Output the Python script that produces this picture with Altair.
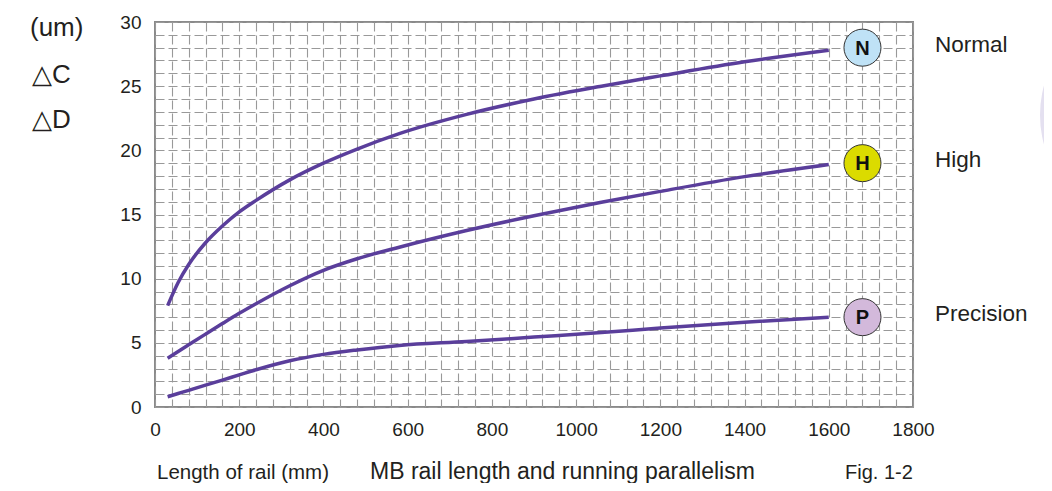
import altair as alt
import pandas as pd

# ---- data ----
lengths = [30, 55, 80, 120, 160, 200, 240, 320, 400, 480, 580, 740, 900, 1060, 1200, 1400, 1600]
normal = [7.9, 9.7, 11.1, 12.8, 14.1, 15.2, 16.1, 17.7, 19.0, 20.1, 21.3, 22.8, 24.0, 25.0, 25.8, 26.9, 27.8]
high = [3.8, 4.33, 4.85, 5.68, 6.5, 7.3, 8.05, 9.45, 10.65, 11.55, 12.45, 13.75, 14.9, 15.95, 16.8, 17.95, 18.9]
precision = [0.8, 1.05, 1.3, 1.7, 2.1, 2.5, 2.9, 3.6, 4.1, 4.45, 4.8, 5.1, 5.45, 5.8, 6.15, 6.6, 7.0]

grades = ["Normal", "High", "Precision"]
badges = ["N", "H", "P"]
badge_colors = ["#bfe2f6", "#dbdb00", "#d3b9db"]
badge_x = [1680, 1680, 1680]
badge_y = [28.0, 19.0, 7.0]

x_ticks = list(range(0, 1801, 40))
y_ticks = list(range(0, 31, 1))

TXT = "#231f20"
FONT = "Liberation Sans"
LINE = "#5a3e9b"

rows = []
for g, vals in zip(grades, [normal, high, precision]):
    for L, v in zip(lengths, vals):
        rows.append({"grade": g, "length": L, "value": v})
df = pd.DataFrame(rows)

bdf = pd.DataFrame({"grade": grades, "badge": badges, "color": badge_colors,
                    "x": badge_x, "y": badge_y})

xscale = alt.Scale(domain=[0, 1800], nice=False, zero=False)
yscale = alt.Scale(domain=[0, 30], nice=False, zero=True)

xaxis = alt.Axis(values=x_ticks, tickCount=len(x_ticks),
                 labelExpr="datum.value % 200 === 0 ? datum.label : ''",
                 title=None, grid=True, gridDash=[9, 4], gridColor="#999999", gridWidth=1.1,
                 ticks=False, domain=False, labelFontSize=19, labelPadding=13,
                 labelColor=TXT, labelFont=FONT, labelFlush=False, labelOverlap=False, format="d")
yaxis = alt.Axis(values=y_ticks, tickCount=len(y_ticks),
                 labelExpr="datum.value % 5 === 0 ? datum.label : ''",
                 title=None, grid=True, gridDash=[9, 4], gridColor="#999999", gridWidth=1.1,
                 ticks=False, domain=False, labelFontSize=19, labelPadding=14,
                 labelColor=TXT, labelFont=FONT, labelFlush=False, labelOverlap=False)

lines = alt.Chart(df).mark_line(color=LINE, strokeWidth=3.5, interpolate="monotone").encode(
    x=alt.X("length:Q", scale=xscale, axis=xaxis),
    y=alt.Y("value:Q", scale=yscale, axis=yaxis),
    detail="grade:N",
)

circles = alt.Chart(bdf).mark_point(filled=True, shape="circle", size=1370, opacity=1,
                                    stroke="#333333", strokeWidth=1).encode(
    x=alt.X("x:Q", scale=xscale, axis=xaxis),
    y=alt.Y("y:Q", scale=yscale, axis=yaxis),
    fill=alt.Fill("color:N", scale=None),
)

letters = alt.Chart(bdf).mark_text(font=FONT, fontSize=20, fontWeight="bold", color="#111111",
                                   baseline="middle", align="center", dy=1).encode(
    x=alt.X("x:Q", scale=xscale, axis=xaxis),
    y=alt.Y("y:Q", scale=yscale, axis=yaxis),
    text="badge:N",
)

grade_labels = alt.Chart(bdf).mark_text(font=FONT, fontSize=22.5, color=TXT,
                                        baseline="middle", align="left", dy=-3).encode(
    x=alt.value(780),
    y=alt.Y("y:Q", scale=yscale, axis=yaxis),
    text="grade:N",
)

texts = pd.DataFrame({
    "t": ["(um)", "△C", "△D"],
    "px": [-125, -123, -123],
    "py": [6, 53, 98],
})
left_texts = alt.Chart(texts).mark_text(font=FONT, fontSize=26, color=TXT,
                                        baseline="middle", align="left").encode(
    x=alt.X("px:Q", scale=None),
    y=alt.Y("py:Q", scale=None),
    text="t:N",
)

bottom = pd.DataFrame({
    "t": ["Length of rail (mm)", "MB rail length and running parallelism", "Fig. 1-2"],
    "px": [2, 215, 690],
    "sz": [20.5, 23, 20],
})
bottom_texts = alt.Chart(bottom).mark_text(font=FONT, color=TXT, baseline="alphabetic",
                                           align="left").encode(
    x=alt.X("px:Q", scale=None),
    y=alt.value(457),
    size=alt.Size("sz:Q", scale=None, legend=None),
    text="t:N",
)

deco = alt.Chart(pd.DataFrame({"d": [1]})).mark_point(filled=True, shape="circle",
                                                     size=48400, color="#e4e0f0", opacity=1).encode(
    x=alt.value(995), y=alt.value(93), detail="d:N",
)

chart = alt.layer(deco, lines, circles, letters, grade_labels, left_texts, bottom_texts).properties(
    width=758, height=385,
    autosize=alt.AutoSizeParams(type="none"),
    padding={"left": 147, "top": 14, "right": 131, "bottom": 76},
    background="white",
).configure_view(stroke="#8a8a8a", strokeWidth=2)

chart.save("out.html", embed_options={"renderer": "svg", "actions": False})
